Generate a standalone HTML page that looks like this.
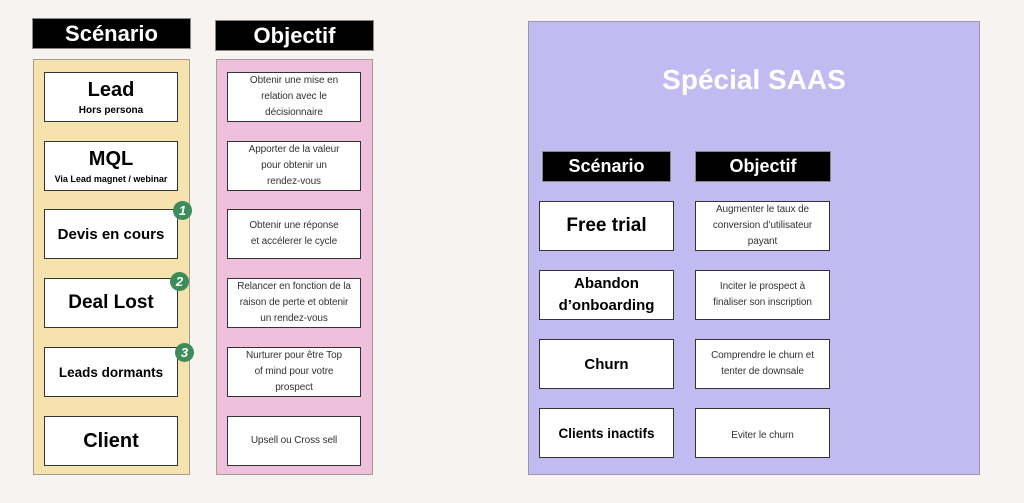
<!DOCTYPE html>
<html><head><meta charset="utf-8"><style>
*{margin:0;padding:0;box-sizing:border-box}
body{width:1024px;height:503px;background:#f6f3f0;position:relative;overflow:hidden;font-family:"Liberation Sans",sans-serif}
.a{position:absolute}
.hd{background:#000;color:#fff;font-weight:bold;display:flex;align-items:center;justify-content:center;box-shadow:0 0 0 1px #888}
.panel{border:1.5px solid #a79c90}
.box{background:#fff;border:1.5px solid #333;display:flex;flex-direction:column;align-items:center;justify-content:center;text-align:center;color:#000}
.s{font-weight:bold}
.o{font-size:10px;line-height:16px;color:#333;white-space:nowrap;letter-spacing:-0.1px}
.b{width:19px;height:19px;border-radius:50%;background:#3d8c5a;color:#fff;font-weight:bold;font-size:13px;display:flex;align-items:center;justify-content:center;font-style:italic}
</style></head><body>
<div class="a hd" style="left:33px;top:19px;width:157px;height:29px;font-size:22px">Scénario</div>
<div class="a hd" style="left:216px;top:21px;width:157px;height:29px;font-size:22px">Objectif</div>
<div class="a panel" style="left:33px;top:59px;width:157px;height:416px;background:#f6e2ad"></div>
<div class="a panel" style="left:216px;top:59px;width:157px;height:416px;background:#efc0dc"></div>

<div class="a box" style="left:44px;top:72px;width:134px;height:50px"><div class="s" style="font-size:20px">Lead</div><div class="s" style="font-size:10px;margin-top:3px">Hors persona</div></div>
<div class="a box" style="left:44px;top:141px;width:134px;height:50px"><div class="s" style="font-size:20px">MQL</div><div class="s" style="font-size:9px;margin-top:3px">Via Lead magnet / webinar</div></div>
<div class="a box" style="left:44px;top:209px;width:134px;height:50px"><div class="s" style="font-size:15px">Devis en cours</div></div>
<div class="a box" style="left:44px;top:278px;width:134px;height:50px"><div class="s" style="font-size:19px">Deal Lost</div></div>
<div class="a box" style="left:44px;top:347px;width:134px;height:50px"><div class="s" style="font-size:13.5px">Leads dormants</div></div>
<div class="a box" style="left:44px;top:416px;width:134px;height:50px"><div class="s" style="font-size:20px">Client</div></div>
<div class="a b" style="left:173px;top:201px">1</div>
<div class="a b" style="left:170px;top:272px">2</div>
<div class="a b" style="left:175px;top:343px">3</div>

<div class="a box o" style="left:227px;top:72px;width:134px;height:50px">Obtenir une mise en<br>relation avec le<br>décisionnaire</div>
<div class="a box o" style="left:227px;top:141px;width:134px;height:50px">Apporter de la valeur<br>pour obtenir un<br>rendez-vous</div>
<div class="a box o" style="left:227px;top:209px;width:134px;height:50px">Obtenir une réponse<br>et accélerer le cycle</div>
<div class="a box o" style="left:227px;top:278px;width:134px;height:50px">Relancer en fonction de la<br>raison de perte et obtenir<br>un rendez-vous</div>
<div class="a box o" style="left:227px;top:347px;width:134px;height:50px">Nurturer pour être Top<br>of mind pour votre<br>prospect</div>
<div class="a box o" style="left:227px;top:416px;width:134px;height:50px">Upsell ou Cross sell</div>

<div class="a panel" style="left:528px;top:21px;width:452px;height:454px;background:#c1bbf1;border-color:#9a96b0"></div>
<div class="a" style="left:528px;top:64px;width:452px;text-align:center;color:#fff;font-weight:bold;font-size:28px">Spécial SAAS</div>
<div class="a hd" style="left:543px;top:152px;width:127px;height:29px;font-size:18px">Scénario</div>
<div class="a hd" style="left:696px;top:152px;width:134px;height:29px;font-size:18px">Objectif</div>

<div class="a box" style="left:539px;top:201px;width:135px;height:50px"><div class="s" style="font-size:19px">Free trial</div></div>
<div class="a box" style="left:539px;top:270px;width:135px;height:50px"><div class="s" style="font-size:15px;line-height:22px">Abandon<br>d’onboarding</div></div>
<div class="a box" style="left:539px;top:339px;width:135px;height:50px"><div class="s" style="font-size:15px">Churn</div></div>
<div class="a box" style="left:539px;top:408px;width:135px;height:50px"><div class="s" style="font-size:13.5px">Clients inactifs</div></div>

<div class="a box o" style="left:695px;top:201px;width:135px;height:50px">Augmenter le taux de<br>conversion d’utilisateur<br>payant</div>
<div class="a box o" style="left:695px;top:270px;width:135px;height:50px">Inciter le prospect à<br>finaliser son inscription</div>
<div class="a box o" style="left:695px;top:339px;width:135px;height:50px">Comprendre le churn et<br>tenter de downsale</div>
<div class="a box o" style="left:695px;top:408px;width:135px;height:50px;padding-top:6px">Eviter le churn</div>
</body></html>
